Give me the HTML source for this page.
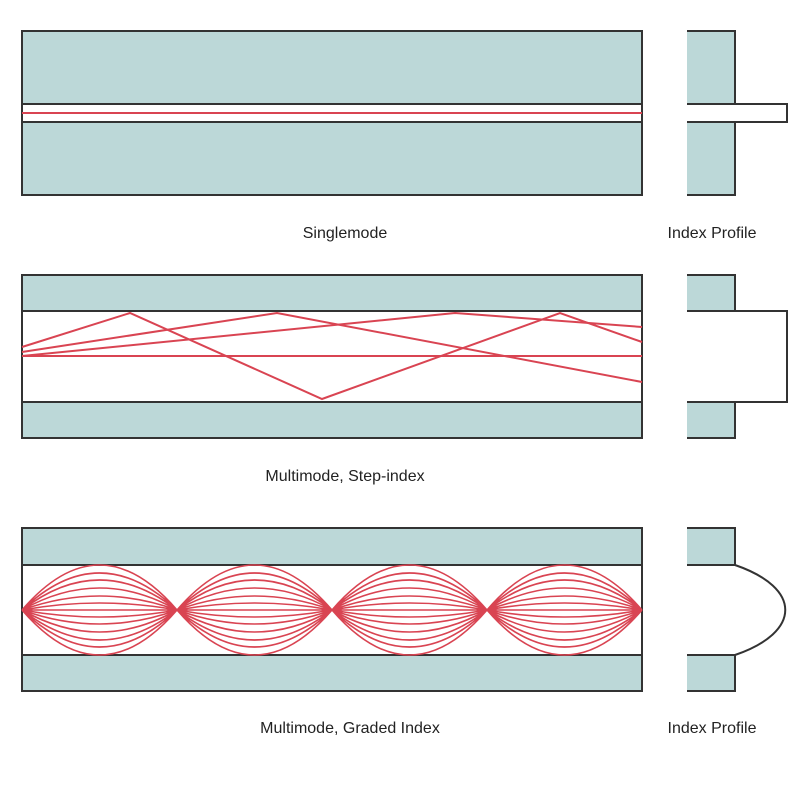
<!DOCTYPE html>
<html><head><meta charset="utf-8"><style>
html,body{margin:0;padding:0;background:#fff;}
svg{display:block}
text{font-family:"Liberation Sans",sans-serif;font-size:16px;fill:#222;}
</style></head><body>
<svg width="800" height="800" viewBox="0 0 800 800" xmlns="http://www.w3.org/2000/svg">
<g stroke="#333" stroke-width="2">
<rect x="22" y="31" width="620" height="164" fill="#bcd8d8"/>
<rect x="22" y="104" width="620" height="18" fill="#fff"/>
<path d="M687 31 H735 V104 H687 Z M687 122 H735 V195 H687 Z" fill="#bcd8d8" stroke="none"/>
<path d="M687 31 H735 V104 H787 V122 H735 V195 H687 M687 104 H735 M687 122 H735" fill="none"/>
<rect x="22" y="275" width="620" height="163" fill="#bcd8d8"/>
<rect x="22" y="311" width="620" height="91" fill="#fff"/>
<path d="M687 275 H735 V311 H687 Z M687 402 H735 V438 H687 Z" fill="#bcd8d8" stroke="none"/>
<path d="M687 275 H735 V311 H787 V402 H735 V438 H687 M687 311 H735 M687 402 H735" fill="none"/>
<rect x="22" y="528" width="620" height="163" fill="#bcd8d8"/>
<rect x="22" y="565" width="620" height="90" fill="#fff"/>
<path d="M687 528 H735 V565 H687 Z M687 655 H735 V691 H687 Z" fill="#bcd8d8" stroke="none"/>
<path d="M687 528 H735 V565 C802 588 802 632 735 655 V691 H687 M687 565 H735 M687 655 H735" fill="none"/>
</g>
<g stroke="#d94452" stroke-width="2" fill="none">
<line x1="22" y1="113" x2="642" y2="113"/>
<polyline points="22,347 130,313 322,399 560,313 642,342"/>
<polyline points="22,352 277,313 642,382"/>
<polyline points="22,356 455,313 642,327"/>
<line x1="22" y1="356" x2="642" y2="356"/>
</g>
<g stroke="#d94452" stroke-width="1.6" fill="none">
<path id="lens" d="M22 610 H177
M22 610 Q99.5 596 177 610 M22 610 Q99.5 624 177 610
M22 610 Q99.5 582 177 610 M22 610 Q99.5 638 177 610
M22 610 Q99.5 566 177 610 M22 610 Q99.5 654 177 610
M22 610 Q99.5 550 177 610 M22 610 Q99.5 670 177 610
M22 610 Q99.5 536 177 610 M22 610 Q99.5 684 177 610
M22 610 Q99.5 520 177 610 M22 610 Q99.5 700 177 610"/>
<use href="#lens" x="155"/>
<use href="#lens" x="310"/>
<use href="#lens" x="465"/>
</g>
<text x="345" y="238" text-anchor="middle">Singlemode</text>
<text x="712" y="238" text-anchor="middle">Index Profile</text>
<text x="345" y="481" text-anchor="middle">Multimode, Step-index</text>
<text x="350" y="733" text-anchor="middle">Multimode, Graded Index</text>
<text x="712" y="733" text-anchor="middle">Index Profile</text>
</svg>
</body></html>
